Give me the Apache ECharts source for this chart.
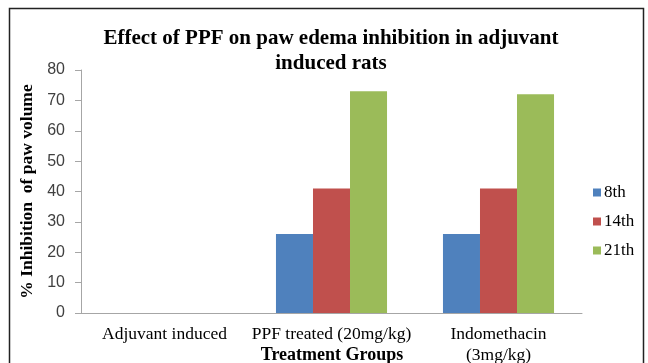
<!DOCTYPE html>
<html>
<head>
<meta charset="utf-8">
<script src="https://cdn.jsdelivr.net/npm/echarts@6/dist/echarts.min.js"></script>
<style>html,body{margin:0;padding:0;background:#fff}#c{width:648px;height:363px}</style>
</head>
<body>
<div id="c"></div>
<script>
var categories = ['Adjuvant induced', 'PPF treated (20mg/kg)', 'Indomethacin\n(3mg/kg)'];
var seriesNames = ['8th', '14th', '21th'];
var day8 = [0, 26, 26];
var day14 = [0, 41, 41];
var day21 = [0, 73, 72];
var yTicks = [0, 10, 20, 30, 40, 50, 60, 70, 80];
var colors = ['#4F81BD', '#C0504D', '#9BBB59'];

var chart = echarts.init(document.getElementById('c'), null, {renderer: 'canvas'});
var serif = '"Liberation Serif", "Times New Roman", serif';
var sans = '"Liberation Sans", Arial, sans-serif';
var values = [day8, day14, day21];
chart.setOption({
  animation: false,
  backgroundColor: '#fff',
  graphic: [{
    type: 'rect', left: 7, top: 6, silent: true,
    shape: {width: 634, height: 370},
    style: {fill: 'none', stroke: '#222', lineWidth: 1.5}
  }, {
    type: 'text', x: 332, y: 355, silent: true,
    style: {
      text: 'Treatment Groups', align: 'center', verticalAlign: 'middle',
      font: 'bold 18px ' + serif, fill: '#000'
    }
  }],
  title: {
    text: 'Effect of PPF on paw edema inhibition in adjuvant\ninduced rats',
    left: 326, top: 21, textAlign: 'center',
    textStyle: {fontFamily: serif, fontWeight: 'bold', fontSize: 21, lineHeight: 25, color: '#000'}
  },
  legend: {
    orient: 'vertical', left: 588, top: 179, itemGap: 12,
    itemWidth: 8, itemHeight: 8, icon: 'rect',
    data: seriesNames,
    textStyle: {fontFamily: serif, fontSize: 17, color: '#000', padding: [0, 0, 0, -2]}
  },
  grid: {left: 81, right: 66, top: 70, bottom: 50, containLabel: false, outerBoundsMode: 'none'},
  xAxis: {
    type: 'category', data: categories,
    axisLine: {lineStyle: {color: '#A6A6A6', width: 1}},
    axisTick: {show: false},
    axisLabel: {fontFamily: serif, fontSize: 17.5, color: '#000', margin: 11, lineHeight: 21, interval: 0}
  },
  yAxis: {
    type: 'value', min: yTicks[0], max: yTicks[yTicks.length - 1], interval: 10,
    name: '% Inhibition  of paw volume', nameLocation: 'middle', nameGap: 41, nameRotate: 90,
    nameTextStyle: {fontFamily: serif, fontWeight: 'bold', fontSize: 17.5, color: '#000'},
    axisLine: {show: true, lineStyle: {color: '#A6A6A6', width: 1}},
    axisTick: {show: true, length: 6, lineStyle: {color: '#A6A6A6'}},
    splitLine: {show: false},
    axisLabel: {fontFamily: sans, fontSize: 16, color: '#404040', margin: 16}
  },
  series: seriesNames.map(function (n, i) {
    return {
      name: n, type: 'bar', data: values[i],
      barGap: '0%', barCategoryGap: '33.5%',
      itemStyle: {color: colors[i]}
    };
  })
});
</script>
</body>
</html>
